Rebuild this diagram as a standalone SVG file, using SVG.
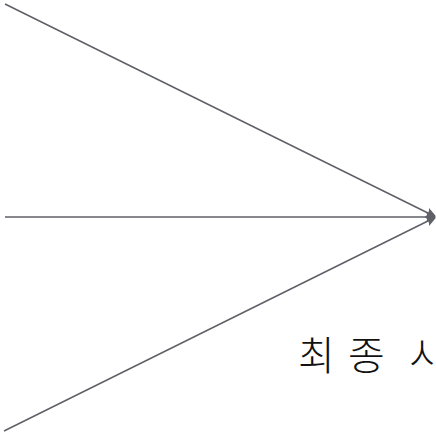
<svg xmlns="http://www.w3.org/2000/svg" width="436" height="432" viewBox="0 0 436 432">
<style>
.edge{stroke:#5f6068;stroke-width:1.5;fill:none}
.lbl{font-family:"Noto Sans CJK KR","Noto Sans",sans-serif;font-size:40px;font-weight:300;fill:#111}
</style>
<defs>
<marker id="ah" markerWidth="10" markerHeight="10" refX="8" refY="5" orient="auto" markerUnits="userSpaceOnUse">
<path d="M0,0 L9,4 Q10,5 9,6 L0,10 Q3,5 0,0 Z" fill="#5f6068"/>
</marker>
</defs>
<g id="connectors">
<line class="edge" x1="5" y1="4" x2="434" y2="216" marker-end="url(#ah)"/>
<line class="edge" x1="5" y1="217" x2="434" y2="217" marker-end="url(#ah)"/>
<line class="edge" x1="4" y1="431" x2="434" y2="218" marker-end="url(#ah)"/>
</g>
<g id="label">
<text class="lbl" x="298 348 390 409" y="370">최종 시스템</text>
</g>
</svg>
